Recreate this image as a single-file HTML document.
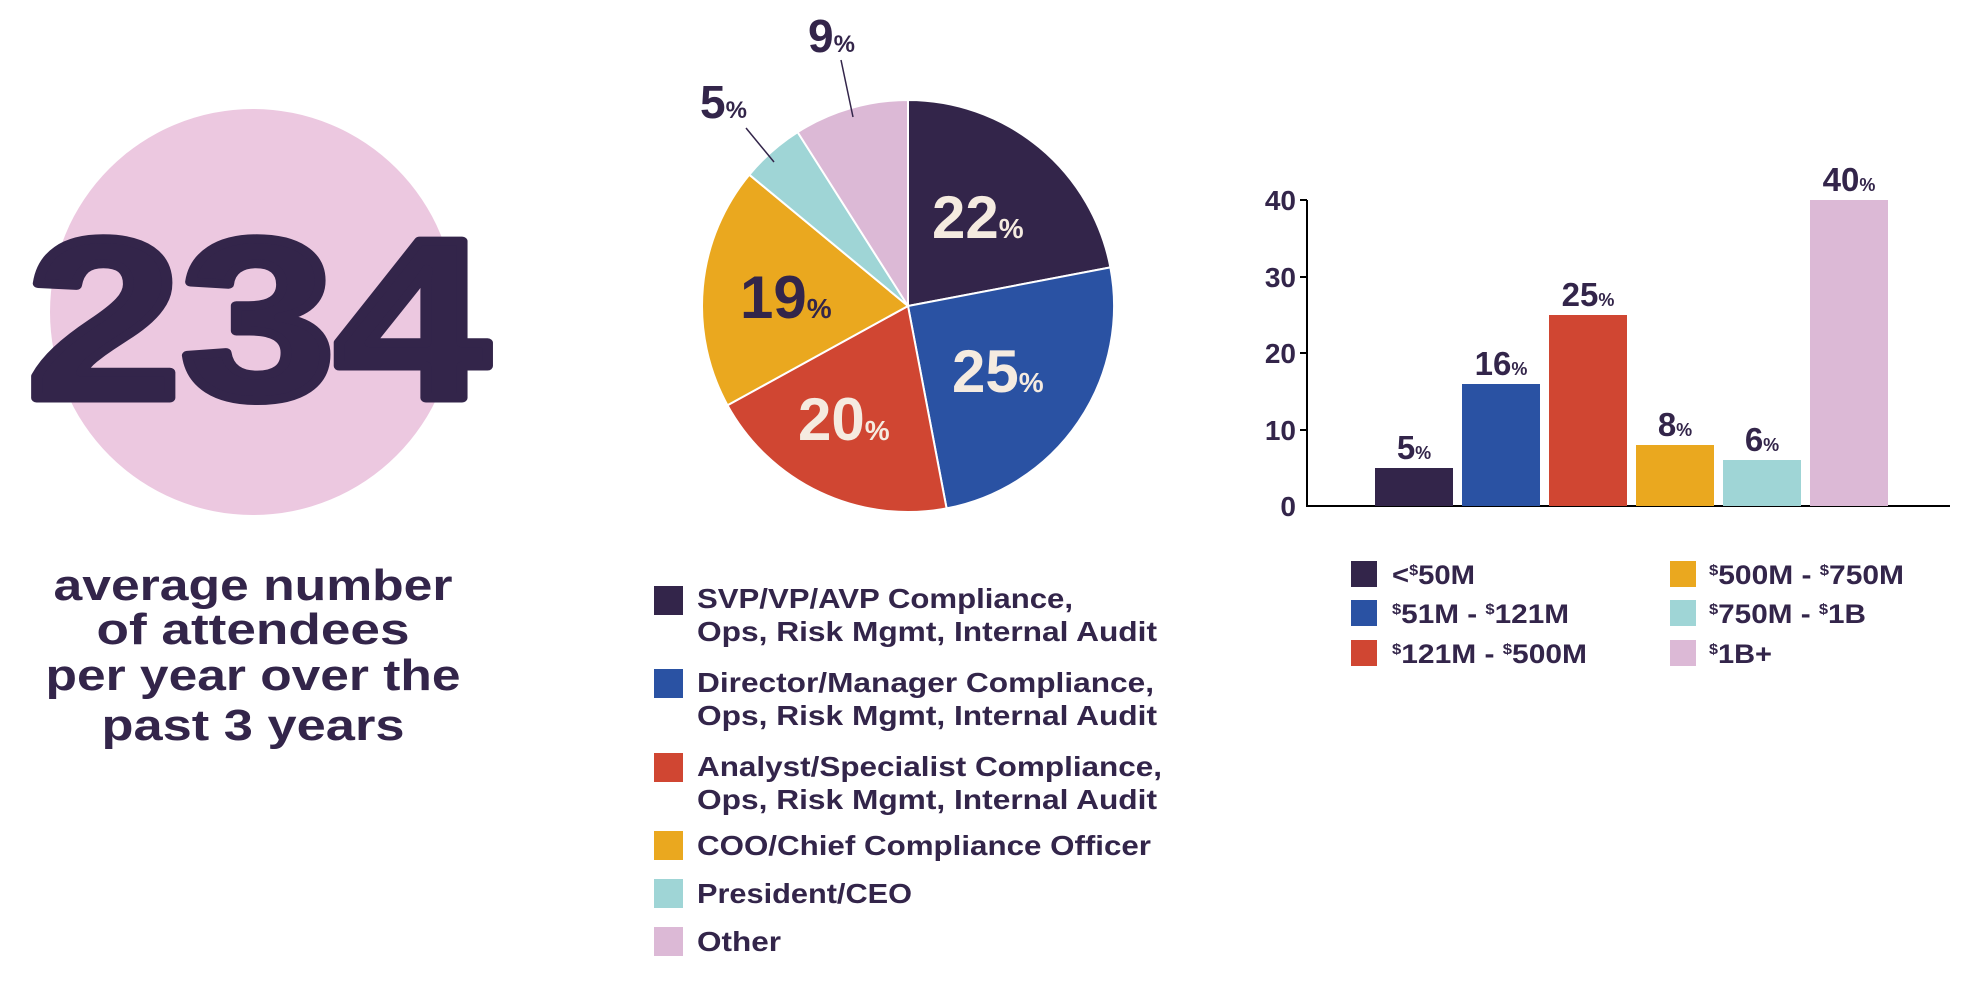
<!DOCTYPE html>
<html><head><meta charset="utf-8"><style>
html,body{margin:0;padding:0;background:#fff;}
svg{display:block;font-family:"Liberation Sans",Arial,sans-serif;font-weight:bold;}
</style></head><body>
<svg width="1984" height="983" viewBox="0 0 1984 983" xmlns="http://www.w3.org/2000/svg">
<circle cx="253" cy="312" r="203" fill="#ecc8e0"/>
<text x="258" y="398" text-anchor="middle" font-size="228" fill="#33254a" stroke="#33254a" stroke-width="9" stroke-linejoin="round" textLength="462" lengthAdjust="spacingAndGlyphs">234</text>
<g fill="#33254a" font-size="44" text-anchor="middle">
<text x="253" y="600" textLength="399" lengthAdjust="spacingAndGlyphs">average number</text>
<text x="253" y="644" textLength="313" lengthAdjust="spacingAndGlyphs">of attendees</text>
<text x="253" y="690" textLength="415" lengthAdjust="spacingAndGlyphs">per year over the</text>
<text x="253" y="740" textLength="303" lengthAdjust="spacingAndGlyphs">past 3 years</text>
</g>
<g stroke="#fff" stroke-width="2">
<path d="M908,306 L908,100 A206,206 0 0 1 1110.4,267.4 Z" fill="#33254a"/>
<path d="M908,306 L1110.4,267.4 A206,206 0 0 1 946.6,508.4 Z" fill="#2a52a3"/>
<path d="M908,306 L946.6,508.4 A206,206 0 0 1 727.5,405.3 Z" fill="#d04632"/>
<path d="M908,306 L727.5,405.3 A206,206 0 0 1 749.3,174.7 Z" fill="#eaa81f"/>
<path d="M908,306 L749.3,174.7 A206,206 0 0 1 797.6,132.1 Z" fill="#9fd5d6"/>
<path d="M908,306 L797.6,132.1 A206,206 0 0 1 908,100 Z" fill="#dcb9d6"/>
</g>
<g font-size="60">
<text x="932" y="238" fill="#f5ebe0">22<tspan font-size="28">%</tspan></text>
<text x="952" y="392" fill="#f5ebe0">25<tspan font-size="28">%</tspan></text>
<text x="798" y="440" fill="#f5ebe0">20<tspan font-size="28">%</tspan></text>
<text x="740" y="318" fill="#33254a">19<tspan font-size="28">%</tspan></text>
<text x="700" y="118" fill="#33254a" font-size="46">5<tspan font-size="24">%</tspan></text>
<text x="808" y="52" fill="#33254a" font-size="46">9<tspan font-size="24">%</tspan></text>
</g>
<line x1="841" y1="60" x2="853" y2="117" stroke="#33254a" stroke-width="1.5"/>
<line x1="746" y1="128" x2="774" y2="162" stroke="#33254a" stroke-width="1.5"/>
<g font-size="28" fill="#33254a">
<rect x="654" y="586" width="29" height="29" fill="#33254a"/>
<text x="697" y="608" textLength="376" lengthAdjust="spacingAndGlyphs">SVP/VP/AVP Compliance,</text><text x="697" y="641" textLength="460" lengthAdjust="spacingAndGlyphs">Ops, Risk Mgmt, Internal Audit</text>
<rect x="654" y="669" width="29" height="29" fill="#2a52a3"/>
<text x="697" y="692" textLength="457" lengthAdjust="spacingAndGlyphs">Director/Manager Compliance,</text><text x="697" y="725" textLength="460" lengthAdjust="spacingAndGlyphs">Ops, Risk Mgmt, Internal Audit</text>
<rect x="654" y="753" width="29" height="29" fill="#d04632"/>
<text x="697" y="776" textLength="465" lengthAdjust="spacingAndGlyphs">Analyst/Specialist Compliance,</text><text x="697" y="809" textLength="460" lengthAdjust="spacingAndGlyphs">Ops, Risk Mgmt, Internal Audit</text>
<rect x="654" y="831" width="29" height="29" fill="#eaa81f"/>
<text x="697" y="855" textLength="454" lengthAdjust="spacingAndGlyphs">COO/Chief Compliance Officer</text>
<rect x="654" y="879" width="29" height="29" fill="#9fd5d6"/>
<text x="697" y="903" textLength="215" lengthAdjust="spacingAndGlyphs">President/CEO</text>
<rect x="654" y="927" width="29" height="29" fill="#dcb9d6"/>
<text x="697" y="951" textLength="84" lengthAdjust="spacingAndGlyphs">Other</text>
</g>
<g fill="#33254a" font-size="28" text-anchor="end">
<text x="1296" y="210">40</text><text x="1296" y="287">30</text><text x="1296" y="363">20</text><text x="1296" y="440">10</text><text x="1296" y="516">0</text>
</g>
<g stroke="#000" stroke-width="2">
<line x1="1307" y1="200" x2="1307" y2="507"/><line x1="1306" y1="506" x2="1950" y2="506"/>
<line x1="1300" y1="200" x2="1307" y2="200"/><line x1="1300" y1="277" x2="1307" y2="277"/><line x1="1300" y1="353" x2="1307" y2="353"/><line x1="1300" y1="430" x2="1307" y2="430"/>
</g>
<rect x="1375" y="468" width="78" height="38" fill="#33254a"/>
<rect x="1462" y="384" width="78" height="122" fill="#2a52a3"/>
<rect x="1549" y="315" width="78" height="191" fill="#d04632"/>
<rect x="1636" y="445" width="78" height="61" fill="#eaa81f"/>
<rect x="1723" y="460" width="78" height="46" fill="#9fd5d6"/>
<rect x="1810" y="200" width="78" height="306" fill="#dcb9d6"/>
<g fill="#33254a" font-size="33" text-anchor="middle">
<text x="1414" y="459">5<tspan font-size="18">%</tspan></text>
<text x="1501" y="375">16<tspan font-size="18">%</tspan></text>
<text x="1588" y="306">25<tspan font-size="18">%</tspan></text>
<text x="1675" y="436">8<tspan font-size="18">%</tspan></text>
<text x="1762" y="451">6<tspan font-size="18">%</tspan></text>
<text x="1849" y="191">40<tspan font-size="18">%</tspan></text>
</g>
<g font-size="27" fill="#33254a">
<rect x="1351" y="561" width="26" height="26" fill="#33254a"/><text x="1392" y="584" textLength="83" lengthAdjust="spacingAndGlyphs">&lt;<tspan font-size="15" dy="-9">$</tspan><tspan dy="9">50M</tspan></text>
<rect x="1351" y="600" width="26" height="26" fill="#2a52a3"/><text x="1392" y="623" textLength="177" lengthAdjust="spacingAndGlyphs"><tspan font-size="15" dy="-9">$</tspan><tspan dy="9">51M - </tspan><tspan font-size="15" dy="-9">$</tspan><tspan dy="9">121M</tspan></text>
<rect x="1351" y="640" width="26" height="26" fill="#d04632"/><text x="1392" y="663" textLength="195" lengthAdjust="spacingAndGlyphs"><tspan font-size="15" dy="-9">$</tspan><tspan dy="9">121M - </tspan><tspan font-size="15" dy="-9">$</tspan><tspan dy="9">500M</tspan></text>
<rect x="1670" y="561" width="26" height="26" fill="#eaa81f"/><text x="1709" y="584" textLength="195" lengthAdjust="spacingAndGlyphs"><tspan font-size="15" dy="-9">$</tspan><tspan dy="9">500M - </tspan><tspan font-size="15" dy="-9">$</tspan><tspan dy="9">750M</tspan></text>
<rect x="1670" y="600" width="26" height="26" fill="#9fd5d6"/><text x="1709" y="623" textLength="157" lengthAdjust="spacingAndGlyphs"><tspan font-size="15" dy="-9">$</tspan><tspan dy="9">750M - </tspan><tspan font-size="15" dy="-9">$</tspan><tspan dy="9">1B</tspan></text>
<rect x="1670" y="640" width="26" height="26" fill="#dcb9d6"/><text x="1709" y="663" textLength="63" lengthAdjust="spacingAndGlyphs"><tspan font-size="15" dy="-9">$</tspan><tspan dy="9">1B+</tspan></text>
</g>
</svg>
</body></html>
